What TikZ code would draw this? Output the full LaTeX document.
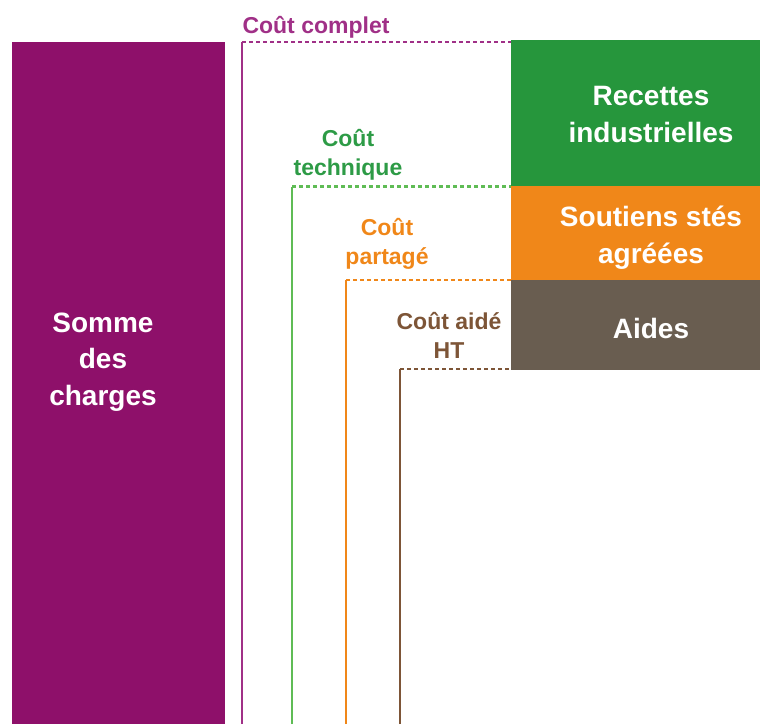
\documentclass[tikz,border=0pt]{standalone}
\usepackage{fontspec}
\setmainfont{Liberation Sans}
\definecolor{pRect}{RGB}{142,16,106}
\definecolor{pLine}{RGB}{160,48,135}
\definecolor{gRect}{RGB}{38,150,60}
\definecolor{gLine}{RGB}{95,188,85}
\definecolor{gText}{RGB}{45,155,70}
\definecolor{oRect}{RGB}{240,135,25}
\definecolor{bRect}{RGB}{105,93,80}
\definecolor{bLine}{RGB}{125,85,55}
\tikzset{
  block/.style={inner sep=0pt, outer sep=0pt, anchor=north west},
  bigtxt/.style={text=white, align=center, inner sep=0pt, font=\fontsize{28}{36.5}\selectfont\bfseries},
  smalltxt/.style={align=center, inner sep=0pt, font=\fontsize{23}{28.5}\selectfont\bfseries},
  vline/.style={line width=2.4pt},
  dline/.style={line width=2.4pt, dash pattern=on 4pt off 3pt}
}
\begin{document}
\begin{tikzpicture}[x=1pt,y=-1pt]
\useasboundingbox (0,0) rectangle (760,724);
% blocks
\node[block, fill=pRect, minimum width=213pt, minimum height=682pt] (somme) at (12,42) {};
\node[block, fill=gRect, minimum width=249pt, minimum height=146pt] (recettes) at (511,40) {};
\node[block, fill=oRect, minimum width=249pt, minimum height=94pt] (soutiens) at (511,186) {};
\node[block, fill=bRect, minimum width=249pt, minimum height=90pt] (aides) at (511,280) {};
% block labels (base = baseline of the last line)
\node[bigtxt, anchor=base] (tsomme) at (103,405) {Somme\\des\\charges};
\node[bigtxt, anchor=base] (trec) at (651,142) {Recettes\\industrielles};
\node[bigtxt, anchor=base] (tsout) at (651,263) {Soutiens stés\\agréées};
\node[bigtxt, anchor=base] (taides) at (651,338) {Aides};
% brackets
\coordinate (cTop) at (242,42);   \coordinate (cBot) at (242,724);
\coordinate (tTop) at (292,186.5); \coordinate (tBot) at (292,724);
\coordinate (pTop) at (346,280);  \coordinate (pBot) at (346,724);
\coordinate (aTop) at (400,369);  \coordinate (aBot) at (400,724);
\draw[vline, pLine] (cBot) -- (cTop);
\draw[dline, pLine] (cTop) -- (recettes.west |- cTop);
\draw[vline, gLine] (tBot) -- (tTop);
\draw[dline, gLine] (tTop) -- (recettes.west |- tTop);
\draw[vline, oRect] (pBot) -- (pTop);
\draw[dline, oRect] (pTop) -- (soutiens.west |- pTop);
\draw[vline, bLine] (aBot) -- (aTop);
\draw[dline, bLine] (aTop) -- (aides.west |- aTop);
% bracket labels
\node[smalltxt, text=pLine, anchor=base] (lcomplet) at (316,33) {Coût complet};
\node[smalltxt, text=gText, anchor=base] (ltech) at (348,175) {Coût\\technique};
\node[smalltxt, text=oRect, anchor=base] (lpart) at (387,264) {Coût\\partagé};
\node[smalltxt, text=bLine, anchor=base] (laide) at (449,358) {Coût aidé\\HT};
\end{tikzpicture}
\end{document}
